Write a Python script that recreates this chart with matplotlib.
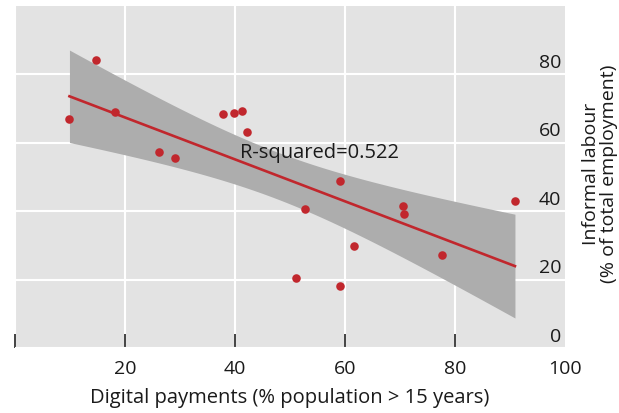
import numpy as np
import matplotlib.pyplot as plt
from matplotlib import transforms

plt.rcParams['font.family'] = ['Open Sans', 'DejaVu Sans']

# digital payments (% population > 15) vs informal labour (% of total employment)
digital = [9.9, 14.7, 18.2, 26.2, 29.1, 37.8, 39.8, 41.2, 42.2, 59.1,
           52.8, 70.5, 70.8, 61.7, 51.0, 59.1, 90.9, 77.6]
informal = [66.9, 84.3, 69.1, 57.2, 55.7, 68.4, 68.6, 69.4, 63.2, 48.8,
            40.7, 41.5, 39.1, 29.7, 20.5, 18.1, 43.1, 27.1]
r2_label = 'R-squared=0.522'

x_ticks = [0, 20, 40, 60, 80]
x_ticklabels = ['', '20', '40', '60', '80']
y_ticks = [0, 20, 40, 60, 80]

red = '#C1272D'
panel = '#E3E3E3'
band = '#ADADAD'
ink = '#1A1A1A'

x = np.array(digital)
y = np.array(informal)

# linear fit with 95% confidence band for the mean
slope, intercept = np.polyfit(x, y, 1)
n = len(x)
resid = y - (slope * x + intercept)
s = np.sqrt(np.sum(resid ** 2) / (n - 2))
sxx = np.sum((x - x.mean()) ** 2)
xs = np.linspace(x.min(), x.max(), 100)
fit = slope * xs + intercept
t_crit = 2.12  # t(0.975, df=16)
half = t_crit * s * np.sqrt(1 / n + (xs - x.mean()) ** 2 / sxx)

fig = plt.figure(figsize=(6.19, 4.14), dpi=100)
ax = fig.add_axes([15 / 619, 1 - 349 / 414, 550 / 619, 342 / 414])
ax.set_facecolor(panel)
ax.set_axisbelow(True)
ax.grid(True, color='white', linewidth=1.5)

ax.fill_between(xs, fit - half, fit + half, color=band, linewidth=0, zorder=2)
ax.plot(xs, fit, color=red, linewidth=1.9, zorder=3)
ax.scatter(x, y, s=38, color=red, linewidth=0, zorder=4)

ax.text(41.0, 57.3, r2_label, fontsize=14.5, ha='left', va='center', color=ink, zorder=5)

ax.set_xlim(0, 100)
ax.set_ylim(0, 100)
for sp in ax.spines.values():
    sp.set_visible(False)

ax.set_xticks(x_ticks)
ax.set_xticklabels(x_ticklabels)
ax.set_xticks([100], minor=True)
ax.set_xticklabels(['100'], minor=True)
ax.tick_params(axis='x', which='major', direction='in', length=10, width=1.2,
               color='#222222', pad=8, labelsize=14, labelcolor=ink)
ax.tick_params(axis='x', which='minor', length=0, pad=8, labelsize=14, labelcolor=ink)
ax.set_xlabel('Digital payments (% population > 15 years)', fontsize=14.5,
              color=ink, labelpad=7)

# y labels sit inside the panel, just above each gridline
ax.set_yticks(y_ticks)
ax.tick_params(axis='y', length=0, labelleft=False, labelright=False)
trans = transforms.blended_transform_factory(ax.transAxes, ax.transData)
for v in y_ticks:
    ax.text(0.993, v + 1.0, str(v), transform=trans, ha='right', va='bottom',
            fontsize=14, color=ink)

# axis title on the right, outside the panel
fig.text(600 / 619, 1 - 174 / 414, 'Informal labour\n(% of total employment)',
         rotation=90, ha='center', va='center', fontsize=14, color=ink,
         linespacing=0.95)

fig.savefig('out.png', dpi=100)
